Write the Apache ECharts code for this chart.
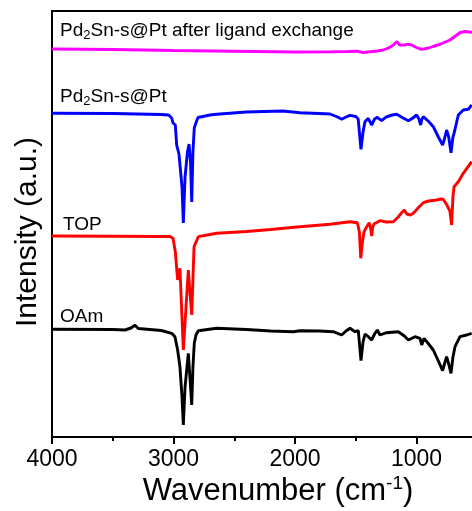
<!DOCTYPE html>
<html>
<head>
<meta charset="utf-8">
<script src="https://cdn.jsdelivr.net/npm/echarts@6/dist/echarts.min.js"></script>
<style>
html,body{margin:0;padding:0;background:#fff;}
#chart{width:472px;height:511px;}
</style>
</head>
<body>
<div id="chart"></div>
<script>
// x tick labels
const xTicks = [4000, 3000, 2000, 1000];

// Pd2Sn-s@Pt after ligand exchange (magenta)
const wnLigand  = [4000,3500,3000,2500,2000,1700,1560,1490,1440,1380,1320,1276,1230,1190,1161,1140,1128,1100,1070,1040,1010,970,947,900,864,800,724,680,640,600,560,543];
const valLigand = [388,387.5,386.5,385.8,385,385.3,385.5,385.8,384.5,385.3,386,387,389,392,395.5,392,391,392,392.8,392,390,388,387.8,389,390.5,393,397,401,404.5,405.5,405,404.5];

// Pd2Sn-s@Pt (blue)
const wnPt  = [4000,3500,3100,3040,3015,3004,2985,2974,2955,2947,2930,2919,2905,2885,2872,2860,2850,2840,2829,2810,2798,2700,2645,2400,2100,1959,1800,1712,1650,1616,1580,1547,1500,1480,1457,1440,1424,1397,1369,1345,1323,1287,1250,1200,1163,1110,1067,1030,999,980,966,955,944,900,862,820,785,770,752,735,716,700,691,675,656,615,574,546];
const valPt = [323.7,323.5,322.5,322,319,314,312,292,283,282,250,214,260,285,293,275,235,285,309,316,319.5,322,322.7,325,326,324.3,323.5,323,320,317.7,320,321.7,320.5,318,287.7,305,315.3,318.7,312,318,319.7,316.3,320,322,322.7,319,316.3,319,322,318,312,318,320.3,315.5,310.3,300,292,298,307,300,284.3,300,303.7,312,322,327,327.7,332];

// TOP (red)
const wnTOP  = [4000,3500,3100,3030,3004,2985,2966,2947,2919,2878,2850,2831,2796,2700,2645,2400,2200,1959,1712,1547,1487,1470,1459,1445,1432,1410,1389,1375,1369,1360,1350,1301,1250,1191,1150,1122,1100,1080,1050,1026,980,944,900,834,800,780,750,739,725,711,700,691,656,615,546];
const valTOP = [201,200.8,200.5,200.5,198.7,185.3,157,168.7,87,167,122,190.3,200.3,202.5,203.7,205.5,207.5,210.3,212.7,215.3,214.3,205,178.7,195,205.3,210.3,214.3,207,201,210,213,216.3,215,215.3,220,224.3,227,223,222,223.7,230,234.3,236,237,238,237.7,232,230.3,226,212,240,250.3,255.3,263.7,275.3];

// OAm (black)
const wnOAm  = [4000,3500,3400,3385,3350,3317,3290,3276,3100,3015,2988,2966,2947,2930,2919,2905,2878,2865,2850,2840,2829,2815,2796,2645,2400,2200,2014,1959,1800,1685,1616,1580,1547,1506,1479,1457,1440,1424,1397,1369,1345,1323,1301,1246,1150,1100,1067,1012,971,957,938,900,862,820,785,770,752,735,716,700,683,642,587,546];
const valOAm = [107.7,107.5,107,106.3,109,111.7,108.5,107.7,106.5,103.7,100.3,87,70.3,40,12,50,83.7,60,32,70,93.7,102,106.3,108.7,107.5,106,105.3,106.3,106,105.3,102,106,108.7,105.3,106.3,76.3,95,103,100.3,97,103,107,102,104.3,105.3,101,97,100.3,98.7,92,98.7,93,87,76,66.3,73,80.3,73,63.7,80,90.3,100.3,102,103.7];

function pairs(xs, ys){ return xs.map((x,i)=>[x, ys[i]]); }

const FONT = '"Liberation Sans", Arial, Helvetica, sans-serif';
const chart = echarts.init(document.getElementById('chart'), null, {renderer:'canvas'});

const lineSeries = (name, xs, ys, color) => ({
  name, type:'line', data: pairs(xs, ys), showSymbol:false, symbol:'none',
  lineStyle:{color, width:2.9}, smooth:false, animation:false, clip:true, z:3
});

const richLabel = {
  a:{fontSize:19, fontFamily:FONT, lineHeight:22, fill:'#000'},
  s:{fontSize:13, fontFamily:FONT, lineHeight:8, verticalAlign:'bottom', fill:'#000'}
};

chart.setOption({
  animation:false,
  backgroundColor:'#fff',
  grid:{left:52, top:11, height:426, width:486, containLabel:false, outerBoundsMode:'none'},
  xAxis:[{
    type:'value', min:0, max:4000, interval:1000, inverse:true,
    axisLine:{show:true, onZero:false, lineStyle:{color:'#000', width:2}},
    axisTick:{show:true, length:7, lineStyle:{color:'#000', width:2}},
    minorTick:{show:true, splitNumber:2, length:4, lineStyle:{color:'#000', width:2}},
    splitLine:{show:false},
    axisLabel:{show:true, margin:11, fontSize:23, color:'#000', fontFamily:FONT,
      formatter:(v)=> xTicks.indexOf(v) >= 0 ? String(v) : ''}
  },{
    type:'value', position:'top', min:0, max:4000, inverse:true,
    axisLine:{show:true, onZero:false, lineStyle:{color:'#000', width:2}},
    axisTick:{show:false}, axisLabel:{show:false}, splitLine:{show:false}
  }],
  yAxis:{
    type:'value', min:0, max:426, position:'left',
    axisLine:{show:true, onZero:false, lineStyle:{color:'#000', width:2}},
    axisTick:{show:false}, axisLabel:{show:false}, splitLine:{show:false}
  },
  series:[
    lineSeries('Pd2Sn-s@Pt after ligand exchange', wnLigand, valLigand, '#ff00ff'),
    lineSeries('Pd2Sn-s@Pt', wnPt, valPt, '#0000ff'),
    lineSeries('TOP', wnTOP, valTOP, '#ff0000'),
    lineSeries('OAm', wnOAm, valOAm, '#000000')
  ],
  graphic:[
    {type:'text', left:60, top:21, z:10, style:{
      text:'{a|Pd}{s|2}{a|Sn-s@Pt after ligand exchange}', fill:'#000', rich:richLabel
    }},
    {type:'text', left:60, top:87, z:10, style:{
      text:'{a|Pd}{s|2}{a|Sn-s@Pt}', fill:'#000', rich:richLabel
    }},
    {type:'text', left:63, top:215, z:10, style:{
      text:'TOP', fill:'#000', font:'19px ' + FONT
    }},
    {type:'text', left:60, top:307, z:10, style:{
      text:'OAm', fill:'#000', font:'19px ' + FONT
    }},
    {type:'text', x:28, y:232, rotation:Math.PI/2, z:10, style:{
      text:'Intensity (a.u.)', fill:'#000', font:'30px ' + FONT, align:'center', verticalAlign:'middle'
    }},
    {type:'text', x:278, y:491, z:10, style:{
      text:'{a|Wavenumber (cm}{s|-1}{a|)}', fill:'#000', align:'center', verticalAlign:'middle',
      rich:{a:{fontSize:31, fontFamily:FONT, lineHeight:34, fill:'#000'}, s:{fontSize:19, fontFamily:FONT, lineHeight:20, verticalAlign:'top', fill:'#000'}}
    }}
  ]
});
</script>
</body>
</html>
